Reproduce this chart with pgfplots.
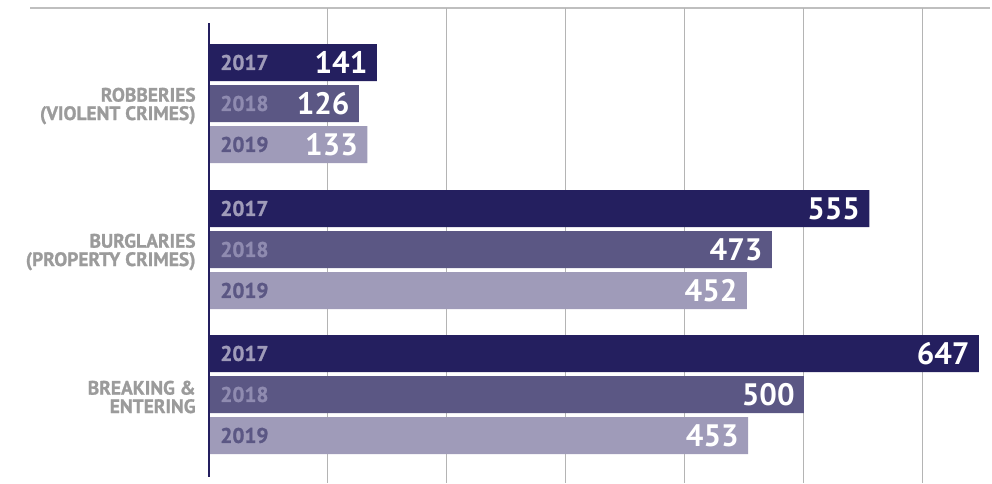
\documentclass[border=0pt]{standalone}
\usepackage{fontspec}
\setmainfont{PT Sans}
\newfontfamily\ptb{PT Sans Bold}
\newfontfamily\ptbb[FakeBold=1.2]{PT Sans Bold}
\usepackage{pgfplots}
\pgfplotsset{compat=1.18}
\definecolor{c17}{HTML}{241F5F}
\definecolor{c18}{HTML}{5B5784}
\definecolor{c19}{HTML}{9F9BB9}
\definecolor{y18}{HTML}{8F8BB0}
\definecolor{catgray}{HTML}{9B9B9B}
\definecolor{gridgray}{HTML}{B4B4B4}
\begin{document}
\begin{tikzpicture}
\useasboundingbox (0,0) rectangle (496pt,-241.5pt);
\draw[gridgray!85, line width=0.75pt] (15pt,-4pt) -- (495pt,-4pt);
\tikzset{yr/.style={anchor=west, inner sep=0pt, xshift=5.5pt, font=\ptbb\fontsize{10.6}{12}\selectfont},
  cat/.style={anchor=east, inner sep=0pt, xshift=-6.5pt, align=right, text=catgray, font=\ptbb\fontsize{9.7}{9.2}\selectfont}}
\begin{axis}[
  at={(104.5pt,-4pt)}, anchor=north west,
  scale only axis, width=391.5pt, height=237.5pt,
  xmin=0, xmax=658, ymin=8, ymax=483, y dir=reverse,
  xbar, bar width=37, bar shift=0pt,
  axis line style={draw=none}, tick style={draw=none},
  xtick={100,200,300,400,500,600}, xticklabels={}, ytick=\empty,
  xmajorgrids, grid style={gridgray, line width=0.5pt},
  clip=false,
  point meta=x,
  /pgf/number format/assume math mode=true,
  nodes near coords={\pgfmathprintnumber{\pgfplotspointmeta}},
  every node near coord/.append style={anchor=east, xshift=-4.5pt, inner sep=0pt,
     text=white, font=\ptb\fontsize{15.5}{17}\selectfont},
]
\addplot[fill=c17, draw=none] coordinates {(141,62.5) (555,208.5) (647,353.5)};
\addplot[fill=c18, draw=none] coordinates {(126,103.5) (473,249.5) (500,394.5)};
\addplot[fill=c19, draw=none] coordinates {(133,144.5) (452,290.5) (453,435.5)};

\node[yr, text=c19] at (axis cs:0,62.5) {2017};
\node[yr, text=c19] at (axis cs:0,208.5) {2017};
\node[yr, text=c19] at (axis cs:0,353.5) {2017};
\node[yr, text=y18] at (axis cs:0,103.5) {2018};
\node[yr, text=y18] at (axis cs:0,249.5) {2018};
\node[yr, text=y18] at (axis cs:0,394.5) {2018};
\node[yr, text=c18] at (axis cs:0,144.5) {2019};
\node[yr, text=c18] at (axis cs:0,290.5) {2019};
\node[yr, text=c18] at (axis cs:0,435.5) {2019};
\node[cat] at (axis cs:0,106) {ROBBERIES\\(VIOLENT CRIMES)};
\node[cat] at (axis cs:0,252) {BURGLARIES\\(PROPERTY CRIMES)};
\node[cat] at (axis cs:0,397) {BREAKING \&\\ENTERING};
\end{axis}
\draw[c17, line width=1.25pt] (104.5pt,-11.5pt) -- (104.5pt,-238.5pt);
\end{tikzpicture}
\end{document}
